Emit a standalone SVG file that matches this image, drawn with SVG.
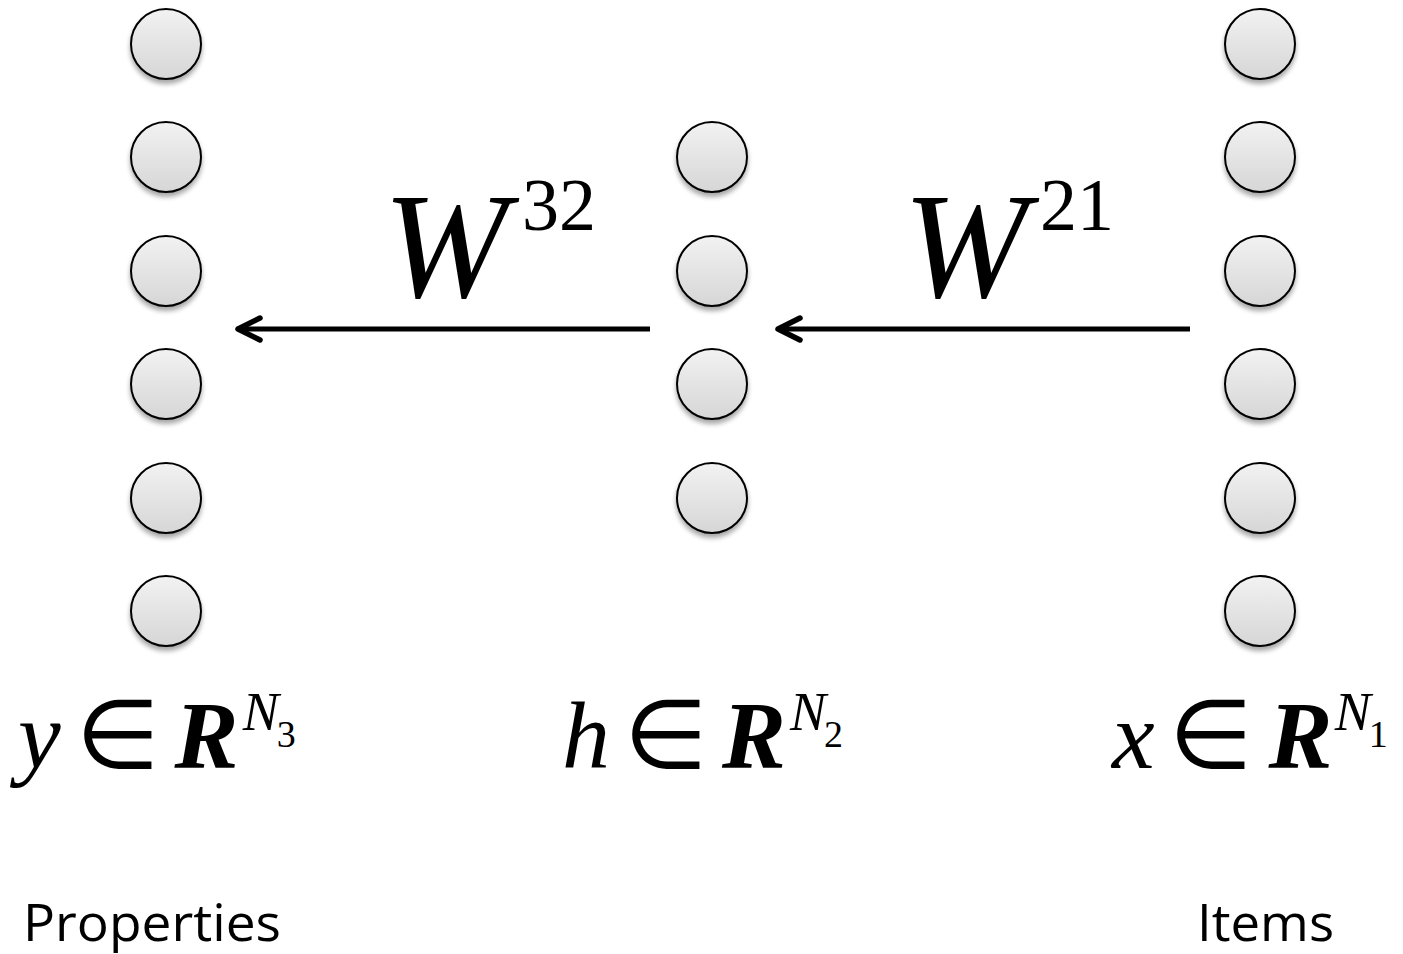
<svg xmlns="http://www.w3.org/2000/svg" width="1403" height="954" viewBox="0 0 1403 954">
<defs>
<linearGradient id="g" x1="0" y1="0" x2="0" y2="1">
<stop offset="0" stop-color="#f2f2f2"/>
<stop offset="1" stop-color="#d6d6d6"/>
</linearGradient>
<filter id="sh" x="-30%" y="-30%" width="160%" height="170%">
<feGaussianBlur in="SourceAlpha" stdDeviation="2.5"/>
<feOffset dx="0" dy="4" result="b"/>
<feComponentTransfer><feFuncA type="linear" slope="0.35"/></feComponentTransfer>
<feMerge><feMergeNode/><feMergeNode in="SourceGraphic"/></feMerge>
</filter>
<marker id="ah" viewBox="0 0 32 32" refX="27" refY="16" markerWidth="32" markerHeight="32" markerUnits="userSpaceOnUse" orient="auto" overflow="visible">
<path d="M5,5 L27,16 L5,27" fill="none" stroke="#000" stroke-width="5.5" stroke-linecap="round" stroke-linejoin="round"/>
</marker>
</defs>
<style>
.n{fill:url(#g);stroke:#000;stroke-width:2;filter:url(#sh)}
.c{stroke:#000;stroke-width:5;fill:none;marker-end:url(#ah)}
.m{font-family:"Liberation Serif",serif;fill:#000}
.i{font-style:italic}
.b{font-weight:bold}
.s{font-family:"Open Sans","Liberation Sans",sans-serif;font-size:52px;fill:#000}
</style>
<rect width="1403" height="954" fill="#fff"/>
<g id="layer3">
<circle class="n" cx="166" cy="44" r="35"/>
<circle class="n" cx="166" cy="157" r="35"/>
<circle class="n" cx="166" cy="271" r="35"/>
<circle class="n" cx="166" cy="384" r="35"/>
<circle class="n" cx="166" cy="498" r="35"/>
<circle class="n" cx="166" cy="611" r="35"/>
</g>
<g id="layer2">
<circle class="n" cx="712" cy="157" r="35"/>
<circle class="n" cx="712" cy="271" r="35"/>
<circle class="n" cx="712" cy="384" r="35"/>
<circle class="n" cx="712" cy="498" r="35"/>
</g>
<g id="layer1">
<circle class="n" cx="1260" cy="44" r="35"/>
<circle class="n" cx="1260" cy="157" r="35"/>
<circle class="n" cx="1260" cy="271" r="35"/>
<circle class="n" cx="1260" cy="384" r="35"/>
<circle class="n" cx="1260" cy="498" r="35"/>
<circle class="n" cx="1260" cy="611" r="35"/>
</g>
<g id="connectors">
<line class="c" x1="650" y1="329" x2="238" y2="329"/>
<line class="c" x1="1190" y1="329" x2="778" y2="329"/>
</g>
<g id="labels">
<text class="m" x="383" y="297"><tspan class="i" font-size="150">W</tspan><tspan font-size="74" dx="14" dy="-67">32</tspan></text>
<text class="m" x="903" y="297"><tspan class="i" font-size="150">W</tspan><tspan font-size="74" dx="12" dy="-67">21</tspan></text>
<text class="m" x="18" y="768" font-size="96"><tspan class="i">y</tspan><tspan dx="15">∈</tspan><tspan class="i b" dx="15">R</tspan><tspan class="i" font-size="54" dx="4" dy="-38">N</tspan><tspan font-size="38" dx="-2" dy="17">3</tspan></text>
<text class="m" x="562" y="768" font-size="96"><tspan class="i">h</tspan><tspan dx="14">∈</tspan><tspan class="i b" dx="14">R</tspan><tspan class="i" font-size="54" dx="4" dy="-38">N</tspan><tspan font-size="38" dx="-2" dy="17">2</tspan></text>
<text class="m" x="1112" y="768" font-size="96"><tspan class="i">x</tspan><tspan dx="14">∈</tspan><tspan class="i b" dx="16">R</tspan><tspan class="i" font-size="54" dx="2" dy="-38">N</tspan><tspan font-size="38" dx="-2" dy="17">1</tspan></text>
<text class="s" x="23" y="941" textLength="258" lengthAdjust="spacingAndGlyphs">Properties</text>
<text class="s" x="1197" y="941" textLength="137" lengthAdjust="spacingAndGlyphs">Items</text>
</g>
</svg>
